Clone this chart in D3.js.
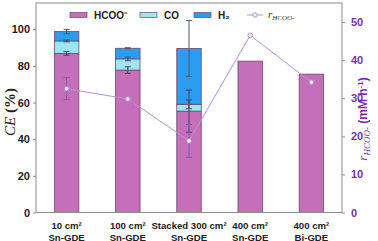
<!DOCTYPE html>
<html><head><meta charset="utf-8">
<script src="https://cdn.jsdelivr.net/npm/d3@7"></script>
<style>body{margin:0;background:#fff}svg{display:block}</style>
</head><body>
<svg id="c" width="378" height="241"></svg>
<script>
const categories = [["10 cm²","Sn-GDE"],["100 cm²","Sn-GDE"],["Stacked 300 cm²","Sn-GDE"],["400 cm²","Sn-GDE"],["400 cm²","Bi-GDE"]];
const hcoo = [86.8, 77.7, 55.3, 82.6, 75.5];
const hcooErr = [1.0, 1.8, 11.5, 0, 0];
const co = [6.8, 6.1, 3.7, 0, 0];
const coErr = [0.5, 1.0, 2.4, 0, 0];
const h2 = [5.1, 5.8, 30.5, 0, 0];
const h2Err = [1.2, 0.3, 15.3, 0, 0];
const rate = [32.5, 29.8, 18.8, 46.5, 34.2];
const rateErr = [2.9, 0, 4.3, 0, 0];
const leftTicks = [0, 20, 40, 60, 80, 100];
const rightTicks = [0, 10, 20, 30, 40, 50];

const svg = d3.select("#c");
const L = 36, R = 342, T = 3, B = 212.5;
const x = d3.scaleBand().domain(d3.range(categories.length)).range([L, R]).paddingInner(0.6).paddingOuter(0.3);
const y = d3.scaleLinear().domain([0, 114.3]).range([B, T]);
const y2 = d3.scaleLinear().domain([0, 55]).range([B, T]);
const cHCOO = "#c46fb8", cCO = "#9ee5f4", cH2 = "#2b9cef", stroke = "#6b4a68", lineC = "#b98fd6", purple = "#7b2fa8";

// bars
categories.forEach((c, i) => {
  const xs = x(i), w = x.bandwidth();
  const segs = [[0, hcoo[i], cHCOO], [hcoo[i], hcoo[i] + co[i], cCO], [hcoo[i] + co[i], hcoo[i] + co[i] + h2[i], cH2]];
  segs.forEach(s => {
    if (s[1] - s[0] <= 0) return;
    svg.append("rect").attr("x", xs).attr("y", y(s[1])).attr("width", w).attr("height", y(s[0]) - y(s[1]))
      .attr("fill", s[2]).attr("stroke", stroke).attr("stroke-width", 0.8);
  });
});

function errBar(cx, yc, e, sc, color) {
  if (!e) return;
  const g = svg.append("g").attr("stroke", color).attr("stroke-width", 1);
  g.append("line").attr("x1", cx).attr("x2", cx).attr("y1", sc(yc - e)).attr("y2", sc(yc + e));
  [yc - e, yc + e].forEach(v => g.append("line").attr("x1", cx - 3).attr("x2", cx + 3).attr("y1", sc(v)).attr("y2", sc(v)));
}
categories.forEach((c, i) => {
  const cx = x(i) + x.bandwidth() / 2;
  errBar(cx, hcoo[i], hcooErr[i], y, "#5a3a5a");
  errBar(cx, hcoo[i] + co[i], coErr[i], y, "#4a4a5a");
  errBar(cx, hcoo[i] + co[i] + h2[i], h2Err[i], y, "#555a66");
});

// rate line
const line = d3.line().x((d, i) => x(i) + x.bandwidth() / 2).y(d => y2(d));
svg.append("path").datum(rate).attr("d", line).attr("fill", "none").attr("stroke", lineC).attr("stroke-width", 1);
rate.forEach((d, i) => errBar(x(i) + x.bandwidth() / 2, d, rateErr[i], y2, "#8a5ab0"));
svg.selectAll("circle.pt").data(rate).join("circle").attr("class", "pt")
  .attr("cx", (d, i) => x(i) + x.bandwidth() / 2).attr("cy", d => y2(d)).attr("r", 2.3)
  .attr("fill", "#f4ecf8").attr("stroke", lineC).attr("stroke-width", 1);

// frame
svg.append("rect").attr("x", L).attr("y", T).attr("width", R - L).attr("height", B - T)
  .attr("fill", "none").attr("stroke", "#8c8c8c").attr("stroke-width", 1);

// axes
const ax = svg.append("g").attr("transform", `translate(${L},0)`)
  .call(d3.axisLeft(y).tickValues(leftTicks).tickSize(3).tickPadding(3));
ax.select(".domain").remove();
ax.selectAll("line").attr("stroke", "#8c8c8c");
ax.selectAll("text").attr("font-family", "Liberation Sans, Arial").attr("font-weight", "bold").attr("font-size", 11).attr("fill", "#222");

const ax2 = svg.append("g").attr("transform", `translate(${R},0)`)
  .call(d3.axisRight(y2).tickValues(rightTicks).tickSize(3).tickPadding(6));
ax2.select(".domain").remove();
ax2.selectAll("line").attr("stroke", "#8c8c8c");
ax2.selectAll("text").attr("font-family", "Liberation Sans, Arial").attr("font-weight", "bold").attr("font-size", 11).attr("fill", purple);

// x labels
categories.forEach((c, i) => {
  const cx = x(i) + x.bandwidth() / 2;
  c.forEach((t, j) => {
    svg.append("text").attr("x", cx).attr("y", 229 + j * 11.5).attr("text-anchor", "middle")
      .attr("font-family", "Liberation Sans, Arial").attr("font-weight", "bold").attr("font-size", 9.6).attr("fill", "#222").text(t);
  });
});

// axis titles
const lt = svg.append("text").attr("transform", "translate(15,112) rotate(-90)").attr("text-anchor", "middle")
  .attr("font-family", "Liberation Serif, Times New Roman").attr("font-size", 15).attr("fill", "#222");
lt.append("tspan").attr("font-style", "italic").text("CE");
lt.append("tspan").attr("font-weight", "bold").text(" (%)");

const rt = svg.append("text").attr("transform", "translate(367,119) rotate(-90)").attr("text-anchor", "middle")
  .attr("fill", purple);
rt.append("tspan").attr("font-family", "Liberation Serif, Times New Roman").attr("font-style", "italic").attr("font-size", 13).text("r");
rt.append("tspan").attr("font-family", "Liberation Serif, Times New Roman").attr("font-style", "italic").attr("font-size", 9).attr("dy", 3).text("HCOO-");
rt.append("tspan").attr("font-family", "Liberation Sans, Arial").attr("font-weight", "bold").attr("font-size", 12).attr("dy", -3).text(" (mM h");
rt.append("tspan").attr("font-family", "Liberation Sans, Arial").attr("font-weight", "bold").attr("font-size", 8).attr("dy", -4).text("-1");
rt.append("tspan").attr("font-family", "Liberation Sans, Arial").attr("font-weight", "bold").attr("font-size", 12).attr("dy", 4).text(")");

// legend
const leg = svg.append("g");
const items = [["HCOO⁻", cHCOO, 70], ["CO", cCO, 140], ["H₂", cH2, 194]];
items.forEach(([t, col, lx]) => {
  leg.append("rect").attr("x", lx).attr("y", 12.5).attr("width", 17).attr("height", 5).attr("fill", col).attr("stroke", stroke).attr("stroke-width", 0.7);
  leg.append("text").attr("x", lx + 24).attr("y", 19).attr("font-family", "Liberation Sans, Arial").attr("font-weight", "bold").attr("font-size", 10).attr("fill", "#222").text(t);
});
leg.append("line").attr("x1", 247).attr("x2", 263).attr("y1", 15).attr("y2", 15).attr("stroke", lineC);
leg.append("circle").attr("cx", 255).attr("cy", 15).attr("r", 2.2).attr("fill", "#f4ecf8").attr("stroke", lineC);
const lr = leg.append("text").attr("x", 268).attr("y", 18).attr("fill", "#333").attr("font-family", "Liberation Serif, Times New Roman").attr("font-style", "italic");
lr.append("tspan").attr("font-size", 11).text("r");
lr.append("tspan").attr("font-size", 7).attr("dy", 1.5).text("HCOO-");
</script>
</body></html>
